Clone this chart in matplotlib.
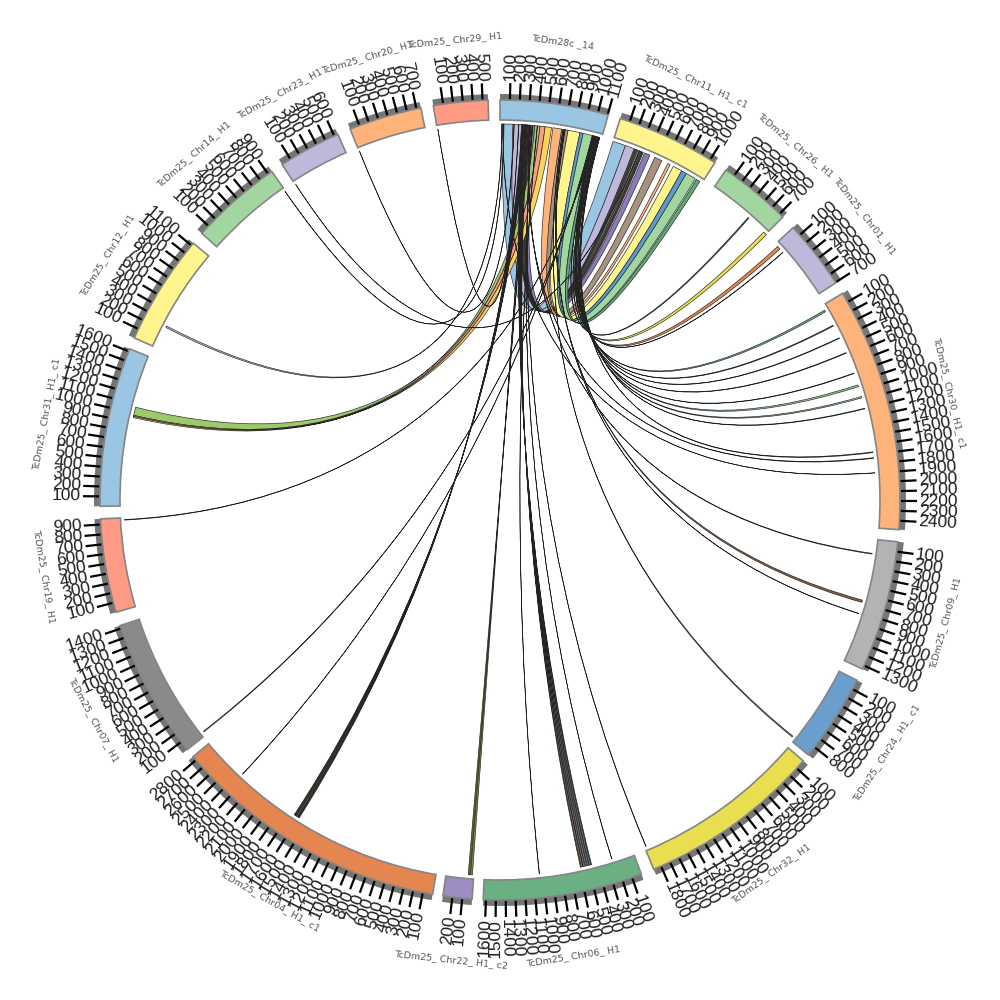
#!/usr/bin/env python3
"""
Circular synteny plot - TcDm28c_14 and Chr11 against the other contigs
"""

import numpy as np
import matplotlib
matplotlib.use("Agg")
import matplotlib.pyplot as plt
from matplotlib.patches import Wedge, PathPatch
from matplotlib.path import Path

# ==================== DATA ====================
sector_names = ["TcDm28c _14", "TcDm25_ Chr11_ H1_ c1", "TcDm25_ Chr26_ H1", "TcDm25_ Chr01_ H1",
                "TcDm25_ Chr30_ H1_ c1", "TcDm25_ Chr09_ H1", "TcDm25_ Chr24_ H1_ c1", "TcDm25_ Chr32_ H1",
                "TcDm25_ Chr06_ H1", "TcDm25_ Chr22_ H1_ c2", "TcDm25_ Chr04_ H1_ c1", "TcDm25_ Chr07_ H1",
                "TcDm25_ Chr19_ H1", "TcDm25_ Chr31_ H1_ c1", "TcDm25_ Chr12_ H1", "TcDm25_ Chr14_ H1",
                "TcDm25_ Chr23_ H1", "TcDm25_ Chr20_ H1", "TcDm25_ Chr29_ H1"]
sector_sizes = [1105, 1056, 746, 705, 2490, 1338, 900, 1880, 1627, 296,
                2845, 1430, 957, 1627, 1130, 945, 640, 746, 556]
sector_colors = ["#9AC5E3", "#FFF58C", "#A2D6A0", "#BEB9DA", "#FDB37A", "#B3B3B3", "#6A9ECC", "#E8DE50",
                 "#6AB083", "#9E8CC2", "#E5854F", "#8A8A8A", "#FF9B85", "#9AC5E3", "#FFF58C", "#A2D6A0",
                 "#BEB9DA", "#FDB37A", "#FF9B85"]

# links, one column per list: sector a, range on a, sector b, range on b, colour
link_a = [0, 0, 0, 0, 0, 0, 0, 0, 0, 0, 0, 0, 0, 0,
          0, 0, 0,
          0, 0, 0, 0, 0, 0,
          0, 0, 0, 0, 0,
          0, 0, 0, 0, 0, 0, 0, 0, 0,
          0, 0, 0, 0, 0, 0, 0, 0, 0, 0, 0,
          0, 0, 0, 0, 0, 0, 0, 0, 0, 1, 0, 0]
link_a0 = [18, 140, 232, 250, 270, 287, 305, 322, 665, 570, 735, 865, 900, 1015,
           375, 430, 485,
           240, 252, 264, 276, 288, 300,
           236, 246, 256, 266, 276,
           290, 310, 1030, 1050, 1065, 1020, 1040, 1060, 1075,
           1010, 1025, 1045, 1070, 1080, 320, 330, 690, 700, 680, 345,
           350, 400, 1000, 1012, 1030, 20, 40, 150, 200, 300, 30, 1072]
link_a1 = [140, 232, 250, 268, 285, 303, 322, 375, 735, 665, 865, 900, 1015, 1060,
           430, 485, 555,
           248, 260, 272, 284, 296, 308,
           244, 254, 264, 274, 284,
           298, 318, 1036, 1056, 1070, 1026, 1046, 1064, 1080,
           1014, 1028, 1050, 1074, 1084, 324, 334, 694, 704, 683, 349,
           354, 403, 1004, 1015, 1034, 23, 43, 153, 203, 303, 33, 1075]
link_b = [1, 1, 1, 1, 1, 1, 1, 1, 1, 1, 1, 1, 1, 1,
          13, 13, 13,
          8, 8, 8, 8, 8, 8,
          10, 10, 10, 10, 10,
          9, 9, 2, 2, 3, 4, 4, 4, 4,
          4, 4, 4, 4, 4, 4, 5, 5, 5, 6, 7,
          8, 8, 10, 11, 12, 14, 15, 17, 18, 16, 4, 3]
link_b0 = [0, 140, 243, 262, 282, 300, 322, 360, 480, 634, 700, 803, 860, 986,
           980, 968, 955,
           465, 487, 509, 531, 553, 575,
           1590, 1603, 1616, 1629, 1642,
           15, 40, 485, 715, 35, 55, 240, 390, 935,
           565, 800, 1065, 1195, 1672, 1735, 152, 665, 812, 850, 1860,
           238, 1033, 2358, 38, 932, 240, 938, 3, 5, 5, 1897, 118]
link_b1 = [140, 240, 258, 278, 297, 318, 345, 423, 563, 662, 803, 860, 972, 1028,
           1070, 980, 968,
           477, 499, 521, 543, 565, 587,
           1601, 1614, 1627, 1640, 1653,
           35, 60, 497, 755, 72, 75, 250, 397, 955,
           572, 806, 1080, 1202, 1680, 1742, 160, 690, 816, 862, 1864,
           240, 1036, 2361, 46, 938, 258, 941, 5, 7, 7, 1900, 122]
link_colors = ["#9AC5E3", "#BEB9DA", "#6B4A3A", "#2F4F4F", "#9AC5E3", "#8B5A3C", "#3A3A3A", "#8A7BB8",
               "#A8917F", "#FDB37A", "#FFF58C", "#5B9BD0", "#A2D6A0", "#5DAA75",
               "#9CC96B", "#FF9B85", "#FBD35A",
               "#1F3A4D", "#333333", "#24566B", "#7A3E22", "#222222", "#6E3B20",
               "#3F5A32", "#222222", "#8A8A3C", "#2E4F2E", "#333333",
               "#8A8A3C", "#6B6B2C", "#3F6B4F", "#E8DE50", "#E5854F", "#6AB083", "#444444", "#555555", "#8FCB96",
               "#444444", "#555555", "#8FCB96", "#666666", "#555555", "#7A5A3A", "#6A6A8A", "#8B5A3C", "#444444",
               "#888888", "#A89A30",
               "#4A2A18", "#6E3B30", "#333333", "#B08050", "#7A4A2A", "#BEB9DA", "#2F4F5F", "#6B6B2C", "#6B6B2C",
               "#6B6B2C", "#666633", "#333333"]

# ==================== LAYOUT ====================
sector_start = [0, 17.5, 34.4, 47.1, 58.9, 96.0, 116.8, 130.7, 159.3, 184.0,
                189.7, 231.4, 253.7, 269.1, 293.9, 311.8, 327.0, 338.0, 350.4]
SCALE = 0.0142  # degrees per unit
R_RIBBON = 376
R_IN = 380
R_OUT = 400
R_BAND = 406
R_TICK = 417
R_TICK_TEXT = 419
R_NAME = 462
R_CTRL = 135


def to_angle(sector, p):
    return sector_start[sector] + p * SCALE


def xy(theta, r):
    # theta in degrees, clockwise from north
    t = np.radians(theta)
    return (r * np.sin(t), r * np.cos(t))


def arc_points(theta0, theta1, r, n=6):
    return [xy(t, r) for t in np.linspace(theta0, theta1, n)]


def ribbon_path(a0, a1, b0, b1):
    verts = [xy(a0, R_RIBBON)]
    codes = [Path.MOVETO]
    # edge one, a0 to b0
    verts += [xy(a0, R_CTRL), xy(b0, R_CTRL), xy(b0, R_RIBBON)]
    codes += [Path.CURVE4] * 3
    verts += arc_points(b0, b1, R_RIBBON)[1:]
    codes += [Path.LINETO] * 5
    # edge two, back from b1 to a1
    verts += [xy(b1, R_CTRL), xy(a1, R_CTRL), xy(a1, R_RIBBON)]
    codes += [Path.CURVE4] * 3
    verts += arc_points(a1, a0, R_RIBBON)[1:]
    codes += [Path.LINETO] * 5
    return Path(verts, codes)


# ==================== PLOT ====================
fig = plt.figure(figsize=(10, 10), dpi=100)
ax = fig.add_axes([0, 0, 1, 1])
ax.set_xlim(-500, 500)
ax.set_ylim(-500, 500)
ax.set_aspect("equal")
ax.axis("off")

for i in range(len(link_a)):
    path = ribbon_path(to_angle(link_a[i], link_a0[i]), to_angle(link_a[i], link_a1[i]),
                       to_angle(link_b[i], link_b0[i]), to_angle(link_b[i], link_b1[i]))
    ax.add_patch(PathPatch(path, facecolor=link_colors[i], edgecolor="#222222", lw=0.45, zorder=2))

for i, size in enumerate(sector_sizes):
    t0 = to_angle(i, 0)
    t1 = to_angle(i, size)
    ax.add_patch(Wedge((0, 0), R_BAND, 90 - t1, 90 - t0, width=R_BAND - R_OUT,
                       facecolor="#757575", edgecolor="none", zorder=3))
    ax.add_patch(Wedge((0, 0), R_OUT, 90 - t1, 90 - t0, width=R_OUT - R_IN,
                       facecolor=sector_colors[i], edgecolor="#858585", lw=1.2, zorder=4))

    for p in range(100, size, 100):
        theta = to_angle(i, p)
        x0, y0 = xy(theta, R_OUT + 1)
        x1, y1 = xy(theta, R_TICK)
        ax.plot([x0, x1], [y0, y1], color="black", lw=1.6, solid_capstyle="butt", zorder=5)
        tx, ty = xy(theta, R_TICK_TEXT)
        if theta < 180:
            rot, ha = 90 - theta, "left"
        else:
            rot, ha = 270 - theta, "right"
        ax.text(tx, ty, str(p), rotation=rot, rotation_mode="anchor", ha=ha, va="center",
                fontsize=12.5, color="#222222", family="Liberation Sans", zorder=6)

    mid = (t0 + t1) / 2
    nx, ny = xy(mid, R_NAME)
    rot = 180 - mid if 90 < mid < 270 else -mid
    ax.text(nx, ny, sector_names[i], rotation=rot, rotation_mode="anchor", ha="center", va="center",
            fontsize=6.8, color="#555555", zorder=6)

fig.savefig("out.png", dpi=100, facecolor="white")
